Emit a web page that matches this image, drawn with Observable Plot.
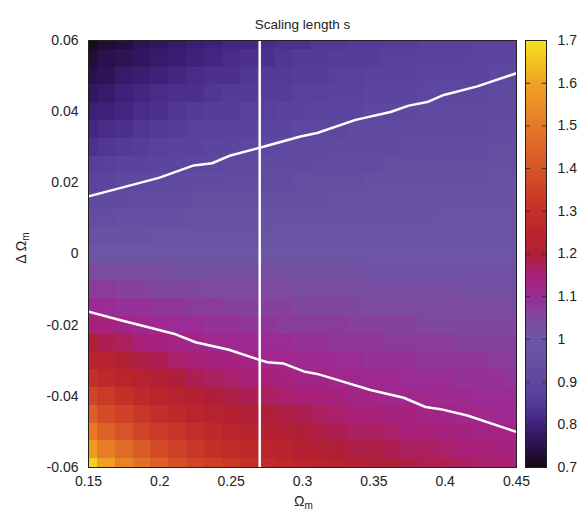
<!DOCTYPE html>
<html><head><meta charset="utf-8">
<script src="https://cdn.jsdelivr.net/npm/d3@7"></script>
<script src="https://cdn.jsdelivr.net/npm/@observablehq/plot@0.6"></script>
<style>
body{margin:0;background:#fff;font-family:"Liberation Sans",Arial,sans-serif;}
#wrap{position:relative;width:584px;height:512px;overflow:hidden;}
.layer{position:absolute;top:0;}
.lbl{position:absolute;font-size:14px;color:#222;white-space:nowrap;line-height:1;}
.lbl sub{font-size:10px;vertical-align:-3px;}
</style></head><body><div id="wrap"></div>
<script>
// ---- data ----
const omegaM = [0.15,0.1625,0.175,0.1875,0.2,0.2125,0.225,0.2375,0.25,0.2625,0.275,0.2875,0.3,0.3125,0.325,0.3375,0.35,0.3625,0.375,0.3875,0.4,0.4125,0.425,0.4375,0.45];
const deltaOmegaM = [0.06,0.055,0.05,0.045,0.04,0.035,0.03,0.025,0.02,0.015,0.01,0.005,0,-0.005,-0.01,-0.015,-0.02,-0.025,-0.03,-0.035,-0.04,-0.045,-0.05,-0.055,-0.06];
const sRows = [
[0.71,0.73,0.74,0.76,0.77,0.78,0.79,0.80,0.81,0.81,0.82,0.83,0.83,0.84,0.84,0.85,0.85,0.86,0.86,0.87,0.87,0.87,0.88,0.88,0.88],
[0.73,0.75,0.76,0.77,0.78,0.79,0.80,0.81,0.82,0.83,0.83,0.84,0.85,0.85,0.86,0.86,0.86,0.87,0.87,0.88,0.88,0.88,0.89,0.89,0.89],
[0.75,0.76,0.78,0.79,0.80,0.81,0.82,0.83,0.83,0.84,0.85,0.85,0.86,0.86,0.87,0.87,0.88,0.88,0.88,0.89,0.89,0.89,0.89,0.90,0.90],
[0.77,0.78,0.80,0.81,0.82,0.83,0.83,0.84,0.85,0.85,0.86,0.86,0.87,0.87,0.88,0.88,0.89,0.89,0.89,0.90,0.90,0.90,0.90,0.91,0.91],
[0.79,0.80,0.81,0.82,0.83,0.84,0.85,0.86,0.86,0.87,0.87,0.88,0.88,0.89,0.89,0.89,0.90,0.90,0.90,0.91,0.91,0.91,0.91,0.92,0.92],
[0.81,0.82,0.83,0.84,0.85,0.86,0.87,0.87,0.88,0.88,0.89,0.89,0.90,0.90,0.90,0.91,0.91,0.91,0.91,0.92,0.92,0.92,0.92,0.93,0.93],
[0.83,0.84,0.85,0.86,0.87,0.88,0.88,0.89,0.89,0.90,0.90,0.91,0.91,0.91,0.92,0.92,0.92,0.92,0.93,0.93,0.93,0.93,0.93,0.94,0.94],
[0.86,0.87,0.88,0.88,0.89,0.89,0.90,0.90,0.91,0.91,0.92,0.92,0.92,0.93,0.93,0.93,0.93,0.94,0.94,0.94,0.94,0.94,0.94,0.95,0.95],
[0.88,0.89,0.90,0.90,0.91,0.91,0.92,0.92,0.93,0.93,0.93,0.93,0.94,0.94,0.94,0.94,0.95,0.95,0.95,0.95,0.95,0.95,0.95,0.96,0.96],
[0.91,0.92,0.92,0.93,0.93,0.93,0.94,0.94,0.94,0.95,0.95,0.95,0.95,0.95,0.96,0.96,0.96,0.96,0.96,0.96,0.96,0.97,0.97,0.97,0.97],
[0.94,0.94,0.95,0.95,0.95,0.95,0.96,0.96,0.96,0.96,0.96,0.97,0.97,0.97,0.97,0.97,0.97,0.97,0.97,0.97,0.98,0.98,0.98,0.98,0.98],
[0.97,0.97,0.97,0.97,0.98,0.98,0.98,0.98,0.98,0.98,0.98,0.98,0.98,0.98,0.99,0.99,0.99,0.99,0.99,0.99,0.99,0.99,0.99,0.99,0.99],
[1.00,1.00,1.00,1.00,1.00,1.00,1.00,1.00,1.00,1.00,1.00,1.00,1.00,1.00,1.00,1.00,1.00,1.00,1.00,1.00,1.00,1.00,1.00,1.00,1.00],
[1.03,1.03,1.03,1.03,1.03,1.02,1.02,1.02,1.02,1.02,1.02,1.02,1.02,1.02,1.02,1.02,1.01,1.01,1.01,1.01,1.01,1.01,1.01,1.01,1.01],
[1.07,1.07,1.06,1.06,1.05,1.05,1.05,1.04,1.04,1.04,1.04,1.04,1.03,1.03,1.03,1.03,1.03,1.03,1.03,1.03,1.03,1.02,1.02,1.02,1.02],
[1.11,1.10,1.09,1.09,1.08,1.08,1.07,1.07,1.06,1.06,1.06,1.06,1.05,1.05,1.05,1.05,1.04,1.04,1.04,1.04,1.04,1.04,1.04,1.04,1.03],
[1.15,1.14,1.13,1.12,1.11,1.10,1.10,1.09,1.09,1.08,1.08,1.07,1.07,1.07,1.07,1.06,1.06,1.06,1.06,1.05,1.05,1.05,1.05,1.05,1.05],
[1.20,1.18,1.17,1.15,1.14,1.13,1.13,1.12,1.11,1.11,1.10,1.10,1.09,1.09,1.08,1.08,1.08,1.07,1.07,1.07,1.07,1.06,1.06,1.06,1.06],
[1.25,1.23,1.21,1.19,1.18,1.16,1.15,1.14,1.14,1.13,1.12,1.12,1.11,1.11,1.10,1.10,1.09,1.09,1.09,1.08,1.08,1.08,1.08,1.07,1.07],
[1.30,1.27,1.25,1.23,1.21,1.20,1.18,1.17,1.16,1.15,1.15,1.14,1.13,1.13,1.12,1.12,1.11,1.11,1.10,1.10,1.10,1.09,1.09,1.09,1.08],
[1.36,1.33,1.30,1.27,1.25,1.23,1.22,1.20,1.19,1.18,1.17,1.16,1.15,1.15,1.14,1.13,1.13,1.12,1.12,1.12,1.11,1.11,1.10,1.10,1.10],
[1.43,1.38,1.35,1.32,1.29,1.27,1.25,1.23,1.22,1.21,1.20,1.19,1.18,1.17,1.16,1.15,1.15,1.14,1.14,1.13,1.13,1.12,1.12,1.11,1.11],
[1.50,1.44,1.40,1.36,1.33,1.31,1.29,1.27,1.25,1.24,1.22,1.21,1.20,1.19,1.18,1.17,1.17,1.16,1.15,1.15,1.14,1.14,1.13,1.13,1.13],
[1.58,1.51,1.46,1.42,1.38,1.35,1.32,1.30,1.28,1.27,1.25,1.24,1.22,1.21,1.20,1.19,1.19,1.18,1.17,1.17,1.16,1.15,1.15,1.14,1.14],
[1.67,1.59,1.52,1.47,1.43,1.39,1.36,1.34,1.32,1.30,1.28,1.26,1.25,1.24,1.23,1.22,1.21,1.20,1.19,1.18,1.18,1.17,1.16,1.16,1.15]
];
const upperX = [0.150,0.1993,0.2238,0.2367,0.2495,0.2694,0.2986,0.3103,0.3372,0.3617,0.3745,0.3874,0.3991,0.4225,0.45];
const upperY = [0.0162,0.0214,0.0249,0.0255,0.0277,0.0298,0.0330,0.0340,0.0377,0.0399,0.0417,0.0427,0.0447,0.0471,0.0508];
const lowerX = [0.150,0.1712,0.2098,0.225,0.2484,0.2694,0.2753,0.2869,0.3009,0.3103,0.322,0.3477,0.371,0.3862,0.3968,0.4155,0.45];
const lowerY = [-0.0162,-0.0185,-0.0224,-0.0248,-0.0269,-0.0297,-0.0304,-0.0308,-0.0330,-0.0337,-0.0351,-0.0382,-0.0404,-0.0430,-0.0436,-0.0454,-0.0500];
const fiducialOmegaM = 0.27;
const xTicks = [0.15,0.2,0.25,0.3,0.35,0.4,0.45];
const yTicks = [-0.06,-0.04,-0.02,0,0.02,0.04,0.06];
const cTicks = [0.7,0.8,0.9,1,1.1,1.2,1.3,1.4,1.5,1.6,1.7];
const paletteStops  = [0.70,0.75,0.80,0.85,0.90,0.95,1.00,1.05,1.10,1.15,1.20,1.25,1.30,1.40,1.50,1.60,1.70];
const paletteColors = ["#150812","#2c104e","#41207c","#553b99","#5e47a0","#6550a3","#6b55a4","#80479f","#9a2b97","#a82078","#b01f38","#ba252b","#c43028","#d65427","#e67a27","#f0a323","#f7e11e"];
const titleText = "Scaling length s";

// ---- build ----
const dx = (omegaM[1]-omegaM[0])/2, dy = (deltaOmegaM[0]-deltaOmegaM[1])/2;
const cells = [];
deltaOmegaM.forEach((d,i) => omegaM.forEach((o,j) => cells.push({x:o, y:d, s:sRows[i][j]})));
const upper = upperX.map((x,i)=>({x, y:upperY[i]}));
const lower = lowerX.map((x,i)=>({x, y:lowerY[i]}));
const fmt = d => String(Math.round(d*1000)/1000);
const colorOpts = {type:"linear", domain: paletteStops, range: paletteColors, clamp:true};
const font = "'Liberation Sans', Arial, sans-serif";

const main = Plot.plot({
  width: 584, height: 512,
  marginLeft: 88, marginRight: 68, marginTop: 40, marginBottom: 45,
  style: {fontFamily: font, fontSize: "14px", color: "#222", background: "transparent"},
  x: {domain: [0.15, 0.45], ticks: xTicks, tickFormat: fmt, tickSize: 0, tickPadding: 9, label: null},
  y: {domain: [-0.06, 0.06], ticks: yTicks, tickFormat: fmt, tickSize: 0, tickPadding: 10, label: null},
  color: colorOpts,
  marks: [
    Plot.rect(cells, {x1: d=>d.x-dx, x2: d=>d.x+dx, y1: d=>d.y-dy, y2: d=>d.y+dy, fill: "s", clip: true, shapeRendering: "crispEdges"}),
    Plot.ruleX([fiducialOmegaM], {stroke: "white", strokeWidth: 2.5}),
    Plot.line(upper, {x: "x", y: "y", stroke: "white", strokeWidth: 2.5, clip: true}),
    Plot.line(lower, {x: "x", y: "y", stroke: "white", strokeWidth: 2.5, clip: true}),
    Plot.frame({stroke: "#222"}),
    Plot.text([titleText], {frameAnchor: "top", dy: -21, fontSize: 13.5, fill: "#222"})
  ]
});

const bands = d3.range(0, 400).map(i => 0.7 + i*0.0025);
const bar = Plot.plot({
  width: 68, height: 512,
  marginLeft: 9, marginRight: 38, marginTop: 40, marginBottom: 45,
  style: {fontFamily: font, fontSize: "14px", color: "#222", background: "transparent"},
  x: {domain: [0, 1], axis: null},
  y: {domain: [0.7, 1.7], ticks: cTicks, tickFormat: fmt, tickSize: 0, tickPadding: 11, axis: "right", label: null},
  color: colorOpts,
  marks: [
    Plot.rect(bands, {x1: 0, x2: 1, y1: d=>d, y2: d=>d+0.0025, fill: d=>d+0.00125, shapeRendering: "crispEdges"}),
    Plot.ruleY(cTicks.slice(1,-1), {x1: 0, x2: 0.24, stroke: "#333"}),
    Plot.ruleY(cTicks.slice(1,-1), {x1: 0.8, x2: 1, stroke: "#333"}),
    Plot.frame({stroke: "#222"})
  ]
});

const wrap = document.getElementById("wrap");
main.classList.add("layer"); main.style.left = "0px";
bar.classList.add("layer"); bar.style.left = "516px";
wrap.appendChild(main);
wrap.appendChild(bar);

const xl = document.createElement("div");
xl.className = "lbl"; xl.innerHTML = "Ω<sub>m</sub>";
xl.style.left = "294px"; xl.style.top = "494px";
wrap.appendChild(xl);
const yl = document.createElement("div");
yl.className = "lbl"; yl.innerHTML = "Δ Ω<sub>m</sub>";
yl.style.left = "22px"; yl.style.top = "248px";
yl.style.transform = "translate(-50%,-50%) rotate(-90deg)";
wrap.appendChild(yl);
</script></body></html>
